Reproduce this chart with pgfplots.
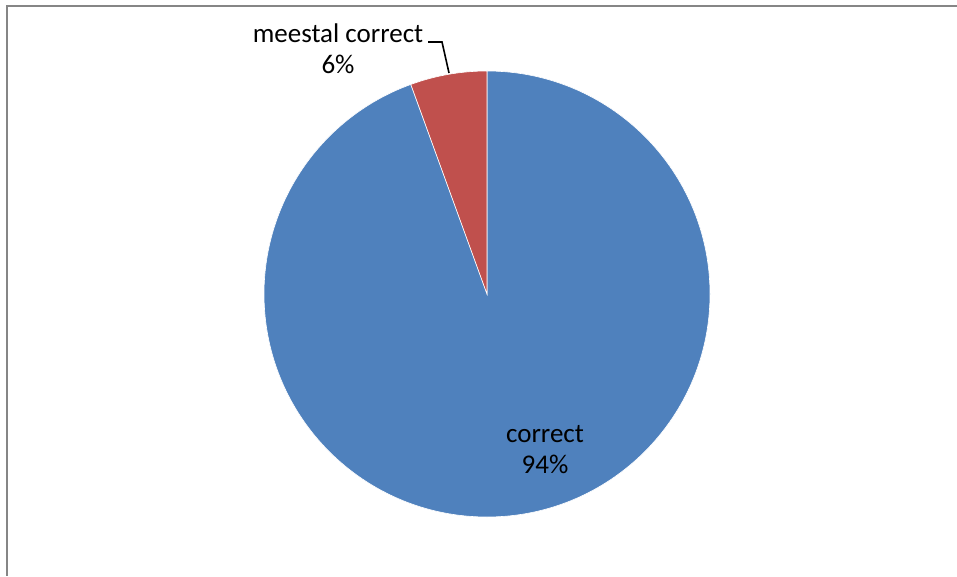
\documentclass[border=0pt]{standalone}
\usepackage{pgfplots}
\pgfplotsset{compat=1.18}
\usepackage{pgfplotstable}
\usepackage{fontspec}
\setmainfont{Carlito}

\definecolor{pieblue}{HTML}{4F81BD}
\definecolor{piered}{HTML}{C0504D}
\definecolor{framegray}{HTML}{868686}

% share of each slice, in percent (clockwise from 12 o'clock)
\pgfplotstableread{
share
94.45
5.55
}\piedata

\begin{document}
\begin{tikzpicture}[font=\fontsize{27}{31}\selectfont]
\pgfplotstablegetelem{0}{share}\of\piedata \let\shareA\pgfplotsretval
\pgfplotstablegetelem{1}{share}\of\piedata \let\shareB\pgfplotsretval
\pgfmathsetmacro\angA{90-3.6*\shareA}
\pgfmathsetmacro\angB{\angA-3.6*\shareB}
\path[use as bounding box] (0,0) rectangle (957pt,576pt);
\begin{axis}[
  scale only axis, width=957pt, height=576pt,
  xmin=0, xmax=957, ymin=0, ymax=576,
  hide axis, clip=false,
]
% frame (only top and left edge visible)
\draw[framegray, line width=2.2pt] (axis cs:6,570) -- (axis cs:957,570);
\draw[framegray, line width=2.2pt] (axis cs:7,570) -- (axis cs:7,0);
% slices
\filldraw[fill=pieblue, draw=white, line width=0.6pt] (axis cs:487,282) -- ++(90:223pt)
  arc[start angle=90, end angle=\angA, radius=223pt] -- cycle;
\filldraw[fill=piered, draw=white, line width=0.6pt] (axis cs:487,282) -- ++(\angA:223pt)
  arc[start angle=\angA, end angle=\angB, radius=223pt] -- cycle;
% labels
\node[align=center] at (axis cs:545,126) {correct\\94\%};
\node[align=center] at (axis cs:338,527) {meestal correct\\6\%};
\draw[black, line width=1.6pt] (axis cs:428,534) -- (axis cs:442,534) -- (axis cs:449,503);
\end{axis}
\end{tikzpicture}
\end{document}
